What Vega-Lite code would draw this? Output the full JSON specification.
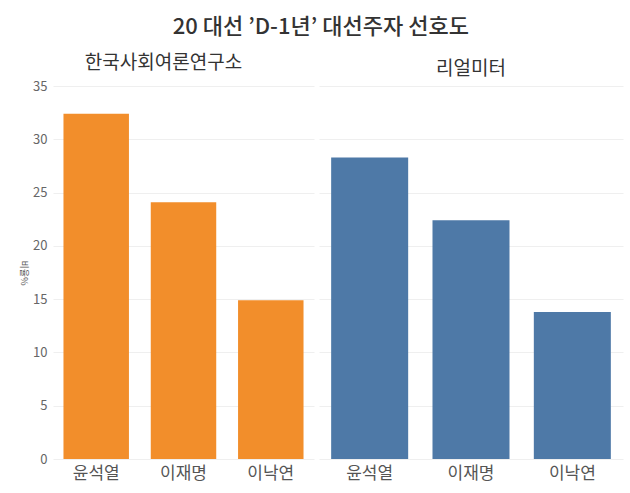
{
  "$schema": "https://vega.github.io/schema/vega-lite/v6.json",
  "background": "white",
  "padding": {"left": 18, "right": 5, "top": 16, "bottom": 5},
  "config": {
    "font": "Noto Sans CJK KR",
    "view": {"stroke": null},
    "axis": {"domain": false, "ticks": false, "gridColor": "#efefef", "labelColor": "#666666", "titleColor": "#555555"},
    "title": {"font": "Noto Sans CJK KR"}
  },
  "title": {
    "text": "20 대선 ’D-1년’ 대선주자 선호도",
    "fontSize": 22,
    "fontWeight": 500,
    "color": "#333333",
    "anchor": "middle",
    "offset": 15
  },
  "data": {
    "values": [
      {"org": "한국사회여론연구소", "name": "윤석열", "value": 32.4},
      {"org": "한국사회여론연구소", "name": "이재명", "value": 24.1},
      {"org": "한국사회여론연구소", "name": "이낙연", "value": 14.9},
      {"org": "리얼미터", "name": "윤석열", "value": 28.3},
      {"org": "리얼미터", "name": "이재명", "value": 22.4},
      {"org": "리얼미터", "name": "이낙연", "value": 13.8}
    ]
  },
  "spacing": 5,
  "resolve": {"scale": {"y": "shared"}},
  "hconcat": [
    {
      "width": 261,
      "height": 373,
      "title": {"text": "한국사회여론연구소", "fontSize": 19, "fontWeight": "normal", "color": "#333333", "anchor": "middle", "dx": -20, "offset": 7},
      "transform": [{"filter": "datum.org === '한국사회여론연구소'"}],
      "mark": {"type": "bar", "color": "#F28E2B"},
      "encoding": {
        "x": {"field": "name", "type": "nominal", "sort": ["윤석열", "이재명", "이낙연"],
              "scale": {"paddingInner": 0.25, "paddingOuter": 0.12},
              "axis": {"title": null, "labelAngle": 0, "labelFontSize": 17, "labelColor": "#555555", "labelPadding": 6, "grid": false}},
        "y": {"field": "value", "type": "quantitative",
              "scale": {"domain": [0, 35]},
              "axis": {"title": "비율%", "titleFontSize": 9, "titleAngle": 90, "titlePadding": 14, "titleFontWeight": "normal",
                       "values": [0, 5, 10, 15, 20, 25, 30, 35], "labelFontSize": 13, "labelPadding": 6}}
      }
    },
    {
      "width": 304,
      "height": 373,
      "title": {"text": "리얼미터", "fontSize": 19, "fontWeight": "normal", "color": "#333333", "anchor": "middle", "offset": 7},
      "transform": [{"filter": "datum.org === '리얼미터'"}],
      "mark": {"type": "bar", "color": "#4E79A7"},
      "encoding": {
        "x": {"field": "name", "type": "nominal", "sort": ["윤석열", "이재명", "이낙연"],
              "scale": {"paddingInner": 0.24, "paddingOuter": 0.12},
              "axis": {"title": null, "labelAngle": 0, "labelFontSize": 17, "labelColor": "#555555", "labelPadding": 6, "grid": false}},
        "y": {"field": "value", "type": "quantitative",
              "scale": {"domain": [0, 35]},
              "axis": {"title": null, "labels": false, "values": [0, 5, 10, 15, 20, 25, 30, 35]}}
      }
    }
  ]
}
